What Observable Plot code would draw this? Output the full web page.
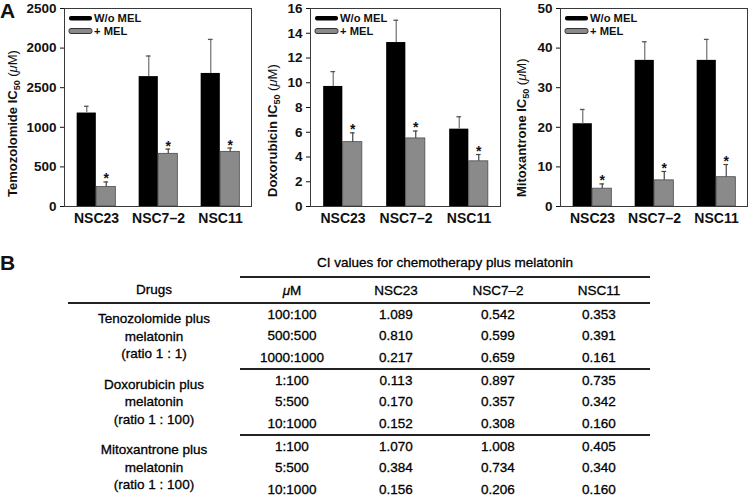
<!DOCTYPE html>
<html>
<head>
<meta charset="utf-8">
<script src="https://cdn.jsdelivr.net/npm/d3@7"></script>
<script src="https://cdn.jsdelivr.net/npm/@observablehq/plot@0.6"></script>
<style>
  html, body { margin: 0; padding: 0; background: #fff; }
  #root { position: relative; width: 748px; height: 497px; overflow: hidden; font-family: "Liberation Sans", Arial, sans-serif; color: #111; }
  .panel-letter { position: absolute; font-weight: bold; font-size: 21px; line-height: 1; }
  .chart { position: absolute; top: 0; }
  table.ci { position: absolute; left: 68px; top: 249px; border-collapse: collapse; font-size: 13.5px; color: #000; table-layout: fixed; -webkit-text-stroke: 0.3px #000; }
  table.ci td { padding: 0; text-align: center; vertical-align: middle; white-space: nowrap; }
  table.ci tr.title td { height: 27px; }
  table.ci tr.title td.t { border-bottom: 2px solid #222; }
  table.ci tr.head td { height: 24px; border-bottom: 2px solid #222; }
  table.ci tr.row td { height: 21.3px; }
  table.ci tr.last td { border-bottom: 2px solid #222; }
  table.ci td.drug { line-height: 17.5px; }
</style>
</head>
<body>
<div id="root">
  <div class="panel-letter" style="left:0px; top:0px;">A</div>
  <div class="panel-letter" style="left:0px; top:252px;">B</div>
</div>
<script>
// ---------- Panel A data ----------
const groups = ["NSC23", "NSC7–2", "NSC11"];
const seriesNames = ["W/o MEL", "+ MEL"];

const temozolomideWo = [1180, 1640, 1680];
const temozolomideWoErr = [85, 260, 430];
const temozolomideMel = [245, 665, 690];
const temozolomideMelErr = [65, 60, 48];
const temozolomideTicks = [0, 500, 1000, 1500, 2000, 2500];
const temozolomideTickLabels = ["0", "500", "1000", "2500", "2000", "2500"];

const doxorubicinWo = [9.7, 13.25, 6.25];
const doxorubicinWoErr = [1.2, 1.8, 1.0];
const doxorubicinMel = [5.2, 5.5, 3.65];
const doxorubicinMelErr = [0.75, 0.6, 0.55];
const doxorubicinTicks = [0, 2, 4, 6, 8, 10, 12, 14, 16];

const mitoxantroneWo = [20.9, 36.9, 36.9];
const mitoxantroneWoErr = [3.6, 4.7, 5.3];
const mitoxantroneMel = [4.5, 6.6, 7.4];
const mitoxantroneMelErr = [1.2, 2.25, 3.2];
const mitoxantroneTicks = [0, 10, 20, 30, 40, 50];

// ---------- Panel B data ----------
const tableTitle = "CI values for chemotherapy plus melatonin";
const tableHeaders = ["Drugs", "μM", "NSC23", "NSC7–2", "NSC11"];
const drugNames = [
  ["Tenozolomide plus", "melatonin", "(ratio 1 : 1)"],
  ["Doxorubicin plus", "melatonin", "(ratio 1 : 100)"],
  ["Mitoxantrone plus", "melatonin", "(ratio 1 : 100)"]
];
const doses = [
  ["100:100", "500:500", "1000:1000"],
  ["1:100", "5:500", "10:1000"],
  ["1:100", "5:500", "10:1000"]
];
const ciNSC23 = [1.089, 0.810, 0.217, 0.113, 0.170, 0.152, 1.070, 0.384, 0.156];
const ciNSC72 = [0.542, 0.599, 0.659, 0.897, 0.357, 0.308, 1.008, 0.734, 0.206];
const ciNSC11 = [0.353, 0.391, 0.161, 0.735, 0.342, 0.160, 0.405, 0.340, 0.160];

// ---------- Chart builder ----------
function makeChart(cfg) {
  const data = groups.map((g, i) => ({
    g, wo: cfg.wo[i], woErr: cfg.woErr[i], mel: cfg.mel[i], melErr: cfg.melErr[i]
  }));
  const frameW = cfg.width - cfg.marginLeft - cfg.marginRight;
  const bw = frameW / groups.length;
  const barW = 19.5;
  const off = barW / 2;
  const capHalf = 2.5;
  const fmt = cfg.tickLabels ? (d => cfg.tickLabels[cfg.ticks.indexOf(d)]) : (d => String(d));

  const svg = Plot.plot({
    width: cfg.width,
    height: 244,
    marginLeft: cfg.marginLeft,
    marginRight: cfg.marginRight,
    marginTop: 8,
    marginBottom: 38,
    style: { fontFamily: '"Liberation Sans", Arial, sans-serif', fontWeight: "bold", color: "#111", background: "transparent", overflow: "visible" },
    x: { type: "band", domain: groups, padding: 0 },
    y: { domain: [0, cfg.ticks[cfg.ticks.length - 1]] },
    marks: [
      Plot.barY(data, { x: "g", y: "wo", fill: "#000", insetLeft: bw / 2 - barW, insetRight: bw / 2 }),
      Plot.barY(data, { x: "g", y: "mel", fill: "#8a8a8a", stroke: "#4a4a4a", strokeWidth: 0.8, insetLeft: bw / 2, insetRight: bw / 2 - barW }),
      Plot.ruleX(data, { x: "g", y1: "wo", y2: d => d.wo + d.woErr, dx: -off, stroke: "#7a7a7a", strokeWidth: 1.3 }),
      Plot.tickY(data, { x: "g", y: d => d.wo + d.woErr, dx: -off, insetLeft: bw / 2 - capHalf, insetRight: bw / 2 - capHalf, stroke: "#555", strokeWidth: 1.3 }),
      Plot.ruleX(data, { x: "g", y1: "mel", y2: d => d.mel + d.melErr, dx: off, stroke: "#444", strokeWidth: 1.2 }),
      Plot.tickY(data, { x: "g", y: d => d.mel + d.melErr, dx: off, insetLeft: bw / 2 - capHalf, insetRight: bw / 2 - capHalf, stroke: "#444", strokeWidth: 1.2 }),
      Plot.text(data, { x: "g", y: d => d.mel + d.melErr, text: () => "*", dx: off, dy: -3, fontSize: 14, fontWeight: "bold", fill: "#111" }),
      Plot.axisX({ tickSize: 0, tickPadding: 7, fontSize: 14, label: null }),
      Plot.axisY({ ticks: cfg.ticks, tickFormat: fmt, tickSize: 4, tickPadding: 4, fontSize: 13.5, label: null }),
      Plot.frame({ stroke: "#3a3a3a", strokeWidth: 1 })
    ]
  });

  const s = d3.select(svg);
  // y-axis title with subscript and italic mu
  const t = s.append("text")
    .attr("transform", `translate(${cfg.labelX},197) rotate(-90)`)
    .attr("text-anchor", "start")
    .attr("font-size", 13)
    .attr("font-weight", "bold")
    .attr("fill", "#111");
  t.append("tspan").text(cfg.drug + " IC");
  t.append("tspan").attr("font-size", 9).attr("dy", 3).text("50");
  t.append("tspan").attr("dy", -3).attr("font-weight", "normal").text(" (");
  t.append("tspan").attr("font-style", "italic").attr("font-weight", "normal").text("μ");
  t.append("tspan").attr("font-weight", "normal").text("M)");

  // legend inside the frame
  const lx = cfg.marginLeft + 5;
  const lg = s.append("g").attr("text-anchor", "start");
  lg.append("rect").attr("x", lx).attr("y", 16).attr("width", 23).attr("height", 4.5).attr("rx", 2).attr("fill", "#000");
  lg.append("rect").attr("x", lx).attr("y", 28.5).attr("width", 23).attr("height", 5).attr("rx", 2).attr("fill", "#8a8a8a").attr("stroke", "#333").attr("stroke-width", 1);
  lg.append("text").attr("x", lx + 25).attr("y", 18).attr("dy", "0.35em").attr("text-anchor", "start").attr("font-size", 11.2).attr("font-weight", "bold").attr("fill", "#111").text(seriesNames[0]);
  lg.append("text").attr("x", lx + 25).attr("y", 31.2).attr("dy", "0.35em").attr("text-anchor", "start").attr("font-size", 11.2).attr("font-weight", "bold").attr("fill", "#111").text(seriesNames[1]);

  const wrap = document.createElement("div");
  wrap.className = "chart";
  wrap.style.left = cfg.left + "px";
  wrap.appendChild(svg);
  return wrap;
}

const root = document.getElementById("root");
root.appendChild(makeChart({
  left: 0, width: 252, marginLeft: 64, marginRight: 1, labelX: 17,
  drug: "Temozolomide",
  wo: temozolomideWo, woErr: temozolomideWoErr, mel: temozolomideMel, melErr: temozolomideMelErr,
  ticks: temozolomideTicks, tickLabels: temozolomideTickLabels
}));
root.appendChild(makeChart({
  left: 252, width: 249, marginLeft: 58, marginRight: 1, labelX: 25,
  drug: "Doxorubicin",
  wo: doxorubicinWo, woErr: doxorubicinWoErr, mel: doxorubicinMel, melErr: doxorubicinMelErr,
  ticks: doxorubicinTicks
}));
root.appendChild(makeChart({
  left: 501, width: 247, marginLeft: 59, marginRight: 1, labelX: 25,
  drug: "Mitoxantrone",
  wo: mitoxantroneWo, woErr: mitoxantroneWoErr, mel: mitoxantroneMel, melErr: mitoxantroneMelErr,
  ticks: mitoxantroneTicks
}));

// ---------- Panel B table ----------
const table = document.createElement("table");
table.className = "ci";
const colWidths = [172, 104, 104, 100, 102];
const colgroup = document.createElement("colgroup");
colWidths.forEach(w => { const c = document.createElement("col"); c.style.width = w + "px"; colgroup.appendChild(c); });
table.appendChild(colgroup);

let tr = document.createElement("tr"); tr.className = "title";
let td = document.createElement("td"); tr.appendChild(td);
td = document.createElement("td"); td.className = "t"; td.colSpan = 4; td.textContent = tableTitle; tr.appendChild(td);
table.appendChild(tr);

tr = document.createElement("tr"); tr.className = "head";
tableHeaders.forEach((h, i) => {
  const c = document.createElement("td");
  if (h.startsWith("μ")) {
    const em = document.createElement("i"); em.textContent = "μ";
    c.appendChild(em); c.appendChild(document.createTextNode(h.slice(1)));
  } else c.textContent = h;
  tr.appendChild(c);
});
table.appendChild(tr);

drugNames.forEach((lines, gi) => {
  doses[gi].forEach((dose, ri) => {
    const k = gi * 3 + ri;
    const row = document.createElement("tr");
    row.className = "row" + (ri === 2 ? " last" : "");
    if (ri === 0) {
      const dc = document.createElement("td");
      dc.className = "drug"; dc.rowSpan = 3;
      dc.innerHTML = lines.map(l => l.replace(/&/g, "&amp;")).join("<br>");
      row.appendChild(dc);
    }
    [dose, ciNSC23[k].toFixed(3), ciNSC72[k].toFixed(3), ciNSC11[k].toFixed(3)].forEach(v => {
      const c = document.createElement("td"); c.textContent = v; row.appendChild(c);
    });
    table.appendChild(row);
  });
});
root.appendChild(table);
</script>
</body>
</html>
